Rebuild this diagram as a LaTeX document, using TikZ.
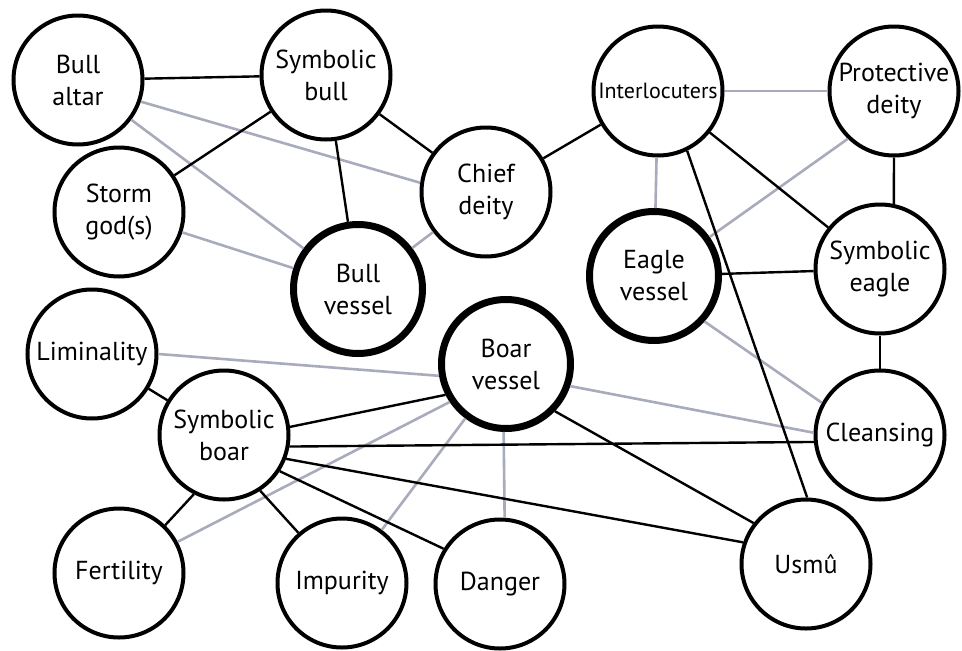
\documentclass[tikz,border=0pt]{standalone}
\usepackage{fontspec}
\setmainfont{PT Sans}
\usepackage{tikz}
\definecolor{linkgray}{RGB}{168,171,188}

\begin{document}
\begin{tikzpicture}[
  x=1pt, y=-1pt,
  concept/.style={circle, draw=black, line width=4pt, minimum size=129pt,
                  inner sep=0pt, align=center, font=\fontsize{26}{32}\selectfont},
  vessel/.style={concept, line width=7pt},
  strong/.style={black, line width=2.4pt},
  weak/.style={linkgray, line width=2.6pt},
]
  \useasboundingbox (0,0) rectangle (962,651);

  % Bull cluster
  \node[concept] (balt)  at (78,80)   {Bull\\altar};
  \node[concept] (sbull) at (326,75)  {Symbolic\\bull};
  \node[concept] (storm) at (119,212) {Storm\\god(s)};
  \node[concept] (chief) at (486,192) {Chief\\deity};
  \node[vessel]  (bves)  at (358,289) {Bull\\vessel};

  % Eagle cluster
  \node[concept, font=\fontsize{22}{26}\selectfont] (inter) at (658,91) {Interlocuters};
  \node[concept] (prot)   at (894,91)  {Protective\\deity};
  \node[vessel]  (eves)   at (654,276) {Eagle\\vessel};
  \node[concept] (seagle) at (880,269) {Symbolic\\eagle};

  % Boar cluster
  \node[concept] (limin)  at (92,354)  {Liminality};
  \node[concept] (sboar)  at (224,435) {Symbolic\\boar};
  \node[vessel]  (boves)  at (506,364) {Boar\\vessel};
  \node[concept] (clean)  at (880,435) {Cleansing};
  \node[concept] (fert)   at (119,573) {Fertility};
  \node[concept] (impur)  at (342,583) {Impurity};
  \node[concept] (danger) at (500,584) {Danger};
  \node[concept] (usmu)   at (806,564) {Usmû};

  % Weak links
  \draw[weak] (balt.-19) -- (chief.172);
  \draw[weak] (balt) -- (bves);
  \draw[weak] (storm) -- (bves);
  \draw[weak] (chief) -- (bves);
  \draw[weak] (inter) -- (prot);
  \draw[weak] (inter) -- (eves);
  \draw[weak] (prot.226) -- (eves.35);
  \draw[weak] (eves.-42) -- (clean.151);
  \draw[weak] (limin.0) -- (boves.190);
  \draw[weak] (boves.-19) -- (clean.178);
  \draw[weak] (boves.214) -- (fert.28);
  \draw[weak] (boves) -- (impur);
  \draw[weak] (boves.-92) -- (danger.86);

  % Strong links
  \draw[strong] (balt) -- (sbull);
  \draw[strong] (sbull) -- (storm);
  \draw[strong] (sbull) -- (bves);
  \draw[strong] (sbull) -- (chief);
  \draw[strong] (chief) -- (inter);
  \draw[strong] (inter) -- (seagle);
  \draw[strong] (inter.-64) -- (usmu.89);
  \draw[strong] (prot.south) -- (seagle.78);
  \draw[strong] (eves) -- (seagle);
  \draw[strong] (seagle) -- (clean);
  \draw[strong] (limin) -- (sboar);
  \draw[strong] (sboar.7) -- (boves.207);
  \draw[strong] (sboar.-10) -- (clean.186);
  \draw[strong] (sboar.-21) -- (usmu.161);
  \draw[strong] (sboar.-33) -- (danger.148);
  \draw[strong] (sboar.-57) -- (impur.131);
  \draw[strong] (sboar.243) -- (fert.46);
  \draw[strong] (boves.-44) -- (usmu.142);

\end{tikzpicture}
\end{document}
